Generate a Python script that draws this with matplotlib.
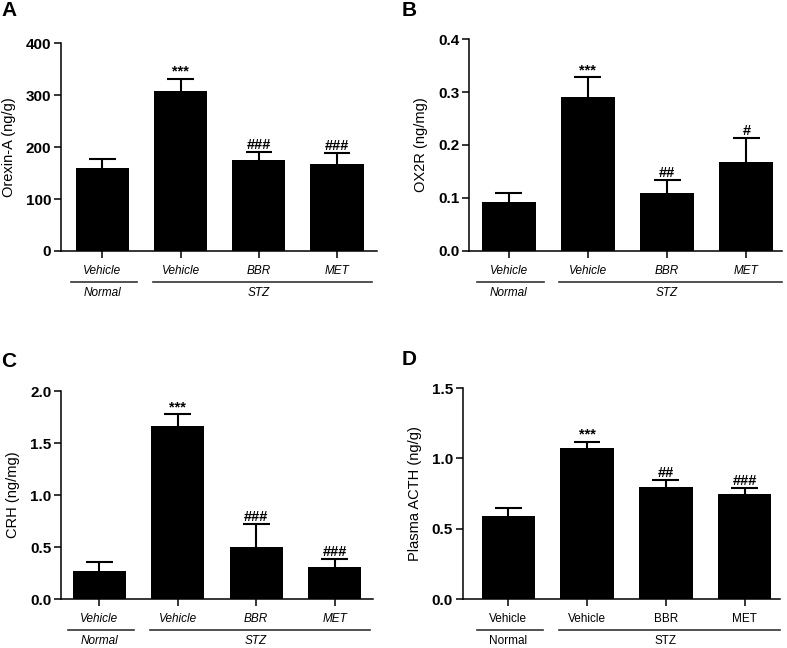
import matplotlib
matplotlib.use("Agg")
import matplotlib.pyplot as plt
from matplotlib.transforms import offset_copy

plt.rcParams['font.family'] = ['Liberation Sans', 'DejaVu Sans']

# Data
groups = ['Vehicle', 'Vehicle', 'BBR', 'MET']
orexin_mean = [160, 308, 175, 167]
orexin_sem = [18, 24, 15, 21]
orexin_sig = ['', '***', '###', '###']

ox2r_mean = [0.092, 0.291, 0.110, 0.168]
ox2r_sem = [0.018, 0.037, 0.024, 0.046]
ox2r_sig = ['', '***', '##', '#']

crh_mean = [0.27, 1.665, 0.506, 0.314]
crh_sem = [0.089, 0.11, 0.22, 0.077]
crh_sig = ['', '***', '###', '###']

acth_mean = [0.59, 1.077, 0.794, 0.744]
acth_sem = [0.054, 0.043, 0.05, 0.043]
acth_sig = ['', '***', '##', '###']

fig = plt.figure(figsize=(7.87, 6.48), dpi=100)


def panel(rect, mean, sem, sig, ylabel, ymax, step, fmt, letter, letter_xy,
          xlim, italic=True):
    ax = fig.add_axes(rect)
    x = list(range(len(mean)))
    ax.bar(x, mean, width=0.68, color='black', zorder=2)
    # upper-only error bars with caps
    tops = [m + s for m, s in zip(mean, sem)]
    ax.vlines(x, mean, tops, color='black', lw=1.5, zorder=1)
    ax.hlines(tops, [xi - 0.17 for xi in x], [xi + 0.17 for xi in x],
              color='black', lw=1.5, zorder=1)
    for xi, t, lab in zip(x, tops, sig):
        if lab:
            ax.text(xi, t, lab, ha='center', va='bottom', fontsize=10.5,
                    fontweight='bold')
    ax.set_xlim(*xlim)
    ax.set_ylim(0, ymax)
    ticks = [i * step for i in range(int(round(ymax / step)) + 1)]
    ax.set_yticks(ticks)
    ax.set_yticklabels([fmt.format(t) for t in ticks], fontsize=11,
                       fontweight='bold')
    ax.set_ylabel(ylabel, fontsize=10.5, labelpad=7)
    ax.set_xticks(x)
    style = 'italic' if italic else 'normal'
    ax.set_xticklabels(groups, fontsize=8.5, style=style)
    ax.tick_params(axis='x', length=5, width=1.1, pad=5)
    ax.tick_params(axis='y', length=5, width=1.1, pad=2)
    for side in ['top', 'right']:
        ax.spines[side].set_visible(False)
    for side in ['left', 'bottom']:
        ax.spines[side].set_linewidth(1.1)

    # group lines and labels under the axis
    line_tr = offset_copy(ax.get_xaxis_transform(), fig=fig, y=-31, units='dots')
    text_tr = offset_copy(ax.get_xaxis_transform(), fig=fig, y=-42, units='dots')
    ax.plot([-0.4, 0.44], [0, 0], color='#333333', lw=1.2,
            transform=line_tr, clip_on=False)
    ax.plot([0.64, 3.45], [0, 0], color='#333333', lw=1.2,
            transform=line_tr, clip_on=False)
    ax.text(0, 0, 'Normal', ha='center', va='center', fontsize=8.5, style=style,
            transform=text_tr)
    ax.text(2.0, 0, 'STZ', ha='center', va='center', fontsize=8.5, style=style,
            transform=text_tr)

    fig.text(letter_xy[0], letter_xy[1], letter, fontsize=15,
             fontweight='bold', ha='left', va='top')
    return ax


panel([0.0775, 0.6127, 0.4015, 0.3205], orexin_mean, orexin_sem, orexin_sig,
      'Orexin-A (ng/g)', 400, 100, '{:.0f}', 'A', (0.002, 0.999),
      (-0.53, 3.51))
panel([0.596, 0.6131, 0.3976, 0.3263], ox2r_mean, ox2r_sem, ox2r_sig,
      'OX2R (ng/mg)', 0.4, 0.1, '{:.1f}', 'B', (0.510, 0.999),
      (-0.50, 3.45))
panel([0.0775, 0.0752, 0.3965, 0.3214], crh_mean, crh_sem, crh_sig,
      'CRH (ng/mg)', 2.0, 0.5, '{:.1f}', 'C', (0.002, 0.457),
      (-0.49, 3.49))
panel([0.588, 0.0756, 0.403, 0.3254], acth_mean, acth_sem, acth_sig,
      'Plasma ACTH (ng/g)', 1.5, 0.5, '{:.1f}', 'D', (0.510, 0.460),
      (-0.58, 3.45), italic=False)

fig.savefig('out.png', dpi=100)
